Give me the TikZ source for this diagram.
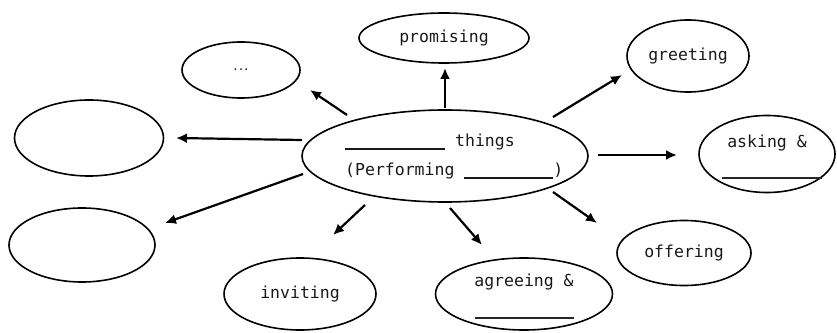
\documentclass[tikz,border=0pt]{standalone}
\usepackage{fontspec}
\setmonofont{DejaVu Sans Mono}
\usetikzlibrary{shapes.geometric,arrows.meta,calc}
\begin{document}
\begin{tikzpicture}[x=1pt,y=1pt,
  bub/.style={draw, ellipse, line width=1.6pt, inner sep=0pt,
    font=\ttfamily\fontsize{16.5}{20}\selectfont, text=black!90},
  txt/.style={font=\ttfamily\fontsize{16.5}{20}\selectfont, text=black!90, inner sep=0pt},
  blank/.style={fill=black!85, minimum height=1.6pt, inner sep=0pt},
  arr/.style={-{Latex[length=11pt,width=10pt]}, line width=2.2pt}]
\useasboundingbox (0,0) rectangle (837,332);
% centre
\node[bub, minimum width=286pt, minimum height=92pt] (c) at (445,176) {};
\node[txt, anchor=base west] (ct1) at (345,185) {\rule[-3pt]{100pt}{1.5pt} things};
\node[txt, anchor=base west] (ct2) at (345,156) {(Performing \rule[-3pt]{89pt}{1.5pt})};
% satellites
\node[bub, minimum width=170pt, minimum height=50pt] (prom) at (444,294) {promising};
\node[bub, minimum width=122pt, minimum height=72pt] (greet) at (688,276) {greeting};
\node[bub, minimum width=118pt, minimum height=56pt, font=\ttfamily\bfseries\fontsize{9}{10}\selectfont] (dots) at (241,262) {...};
\node[bub, minimum width=149pt, minimum height=76pt] (l1) at (89,194) {};
\node[bub, minimum width=136pt, minimum height=77pt] (ask) at (767,178) {};
\node[txt] (askt) at ($(ask)+(0,11)$) {asking \&};
\node[blank, minimum width=100pt] (asku) at ($(ask)+(5,-24)$) {};
\node[bub, minimum width=146pt, minimum height=74pt] (l2) at (82,87) {};
\node[bub, minimum width=152pt, minimum height=72pt] (inv) at (300,38) {inviting};
\node[bub, minimum width=177pt, minimum height=72pt] (agr) at (524,38) {};
\node[txt] (agrt) at ($(agr)+(0,12)$) {agreeing \&};
\node[blank, minimum width=99pt] (agru) at ($(agr)+(0.5,-24)$) {};
\node[bub, minimum width=134pt, minimum height=65pt] (off) at (684,79) {offering};
% arrows
\draw[arr] ($(c)+(0,48)$) -- ($(prom)+(1,-30)$);
\draw[arr] ($(c)+(108,39)$) -- ($(greet)+(-66,-19)$);
\draw[arr] ($(c)+(-98,41)$) -- ($(dots)+(69,-20)$);
\draw[arr] ($(c)+(-143,16)$) -- ($(l1)+(87,0)$);
\draw[arr] ($(c)+(153,1)$) -- ($(ask)+(-90,-1)$);
\draw[arr] ($(c)+(-142,-18)$) -- ($(l2)+(83,22)$);
\draw[arr] ($(c)+(-80,-49)$) -- ($(inv)+(33,59)$);
\draw[arr] ($(c)+(5,-52)$) -- ($(agr)+(-42,49)$);
\draw[arr] ($(c)+(108,-36)$) -- ($(off)+(-87,30)$);
\end{tikzpicture}
\end{document}
